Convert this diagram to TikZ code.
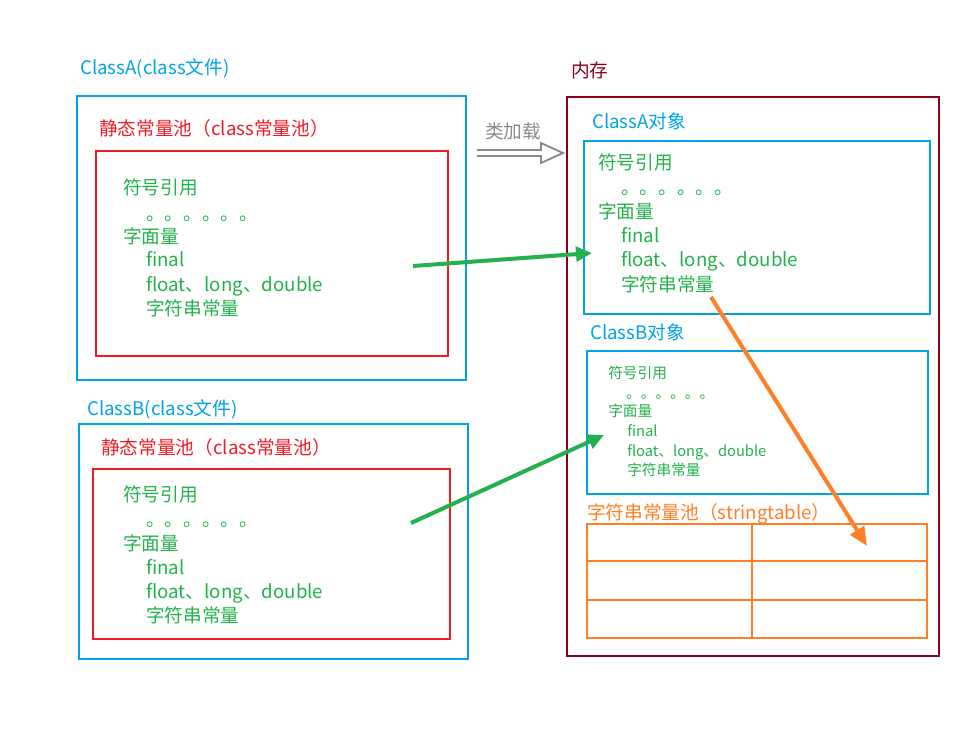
\documentclass[tikz,border=0pt]{standalone}
\usepackage{fontspec}
\setmainfont{Noto Sans CJK SC}
\usetikzlibrary{arrows.meta,calc}
\definecolor{cblue}{HTML}{00A2E8}
\definecolor{cred}{HTML}{ED1C24}
\definecolor{cgreen}{HTML}{22B14C}
\definecolor{corange}{HTML}{FF7F27}
\definecolor{cdark}{HTML}{880015}
\definecolor{cgray}{HTML}{8A8A8A}
\begin{document}
\begin{tikzpicture}[x=0.75pt,y=-0.75pt,
  txt/.style={anchor=west, inner sep=0pt, font=\fontsize{14pt}{17pt}\selectfont, text height=0.88em, text depth=0.12em},
  small/.style={txt, font=\fontsize{11pt}{13pt}\selectfont},
  box/.style={draw, line width=1.5pt},
  conn/.style={line width=3pt}]
\useasboundingbox (0,0) rectangle (974,730);

% ---------- ClassA file ----------
\node[txt, cblue] (la) at (80,69) {ClassA(class文件)};
\draw[box, cblue] (77,96) rectangle (466,380);
\node[txt, cred] (lpa) at (99,130) {静态常量池（class常量池）};
\draw[box, cred] (96,151) rectangle (448,356);
\node[txt, cgreen] (a1) at (123,189) {符号引用};
\node[txt, cgreen] (a2) at (146,215) {。。。。。。};
\node[txt, cgreen] (a3) at (123,238) {字面量};
\node[txt, cgreen] (a4) at (146,261) {final};
\node[txt, cgreen] (a5) at (146,286) {float、long、double};
\node[txt, cgreen] (a6) at (146,310) {字符串常量};

% ---------- ClassB file ----------
\node[txt, cblue] (lb) at (87,410) {ClassB(class文件)};
\draw[box, cblue] (79,424) rectangle (468,659);
\node[txt, cred] (lpb) at (101,449) {静态常量池（class常量池）};
\draw[box, cred] (93,469) rectangle (450,639);
\node[txt, cgreen] (b1) at (123,496) {符号引用};
\node[txt, cgreen] (b2) at (146,521) {。。。。。。};
\node[txt, cgreen] (b3) at (123,545) {字面量};
\node[txt, cgreen] (b4) at (146,569) {final};
\node[txt, cgreen] (b5) at (146,593) {float、long、double};
\node[txt, cgreen] (b6) at (146,617) {字符串常量};

% ---------- memory ----------
\node[txt, cdark] (mem) at (571,72) {内存};
\draw[box, cdark] (567,97) rectangle (939,656);

\node[txt, cgray] (load) at (485,133) {类加载};
\coordinate (ls) at (477,153);
\coordinate (le) at (563,153);
\draw[cgray, line width=1.4pt, line join=miter]
  ($(ls)+(0,-3)$) -- ($(le)+(-22,-3)$) -- ($(le)+(-22,-10)$) -- (le)
  -- ($(le)+(-22,10)$) -- ($(le)+(-22,3)$) -- ($(ls)+(0,3)$);

% ClassA object
\node[txt, cblue] (loa) at (592,123) {ClassA对象};
\draw[box, cblue] (584,141) rectangle (930,314);
\node[txt, cgreen] (oa1) at (598,164) {符号引用};
\node[txt, cgreen] (oa2) at (621,189) {。。。。。。};
\node[txt, cgreen] (oa3) at (598,213) {字面量};
\node[txt, cgreen] (oa4) at (621,237) {final};
\node[txt, cgreen] (oa5) at (621,261) {float、long、double};
\node[txt, cgreen] (oa6) at (621,286) {字符串常量};

% ClassB object
\node[txt, cblue] (lob) at (590,334) {ClassB对象};
\draw[box, cblue] (587,351) rectangle (928,494);
\node[small, cgreen] (ob1) at (608,373) {符号引用};
\node[small, cgreen] (ob2) at (626,393) {。。。。。。};
\node[small, cgreen] (ob3) at (608,411) {字面量};
\node[small, cgreen] (ob4) at (627,431) {final};
\node[small, cgreen] (ob5) at (627,451) {float、long、double};
\node[small, cgreen] (ob6) at (627,470) {字符串常量};

% string table
\node[txt, corange] (lst) at (587,514) {字符串常量池（stringtable）};
\draw[box, corange] (587,524) rectangle (927,638);
\draw[box, corange] (752,524) -- (752,638);
\draw[box, corange] (587,561) -- (927,561);
\draw[box, corange] (587,600) -- (927,600);

% ---------- arrows ----------
\coordinate (ga1) at (413,266);
\coordinate (ga2) at (592,253);
\draw[conn, cgreen, -{Triangle[length=12pt,width=11pt]}] (ga1) -- (ga2);
\coordinate (gb1) at (411,523);
\coordinate (gb2) at (604,435);
\draw[conn, cgreen, -{Triangle[length=12pt,width=11pt]}] (gb1) -- (gb2);
\coordinate (or1) at (711,297);
\coordinate (or2) at (867,546);
\draw[conn, corange, -{Triangle[length=14pt,width=12pt]}] (or1) -- (or2);
\end{tikzpicture}
\end{document}
